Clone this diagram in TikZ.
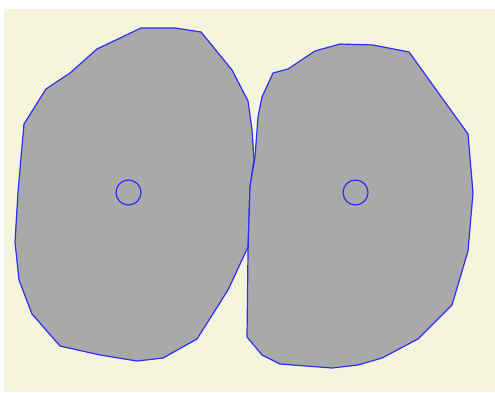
\documentclass[tikz,border=0pt]{standalone}
\usepackage{tikz}
\definecolor{paper}{RGB}{245,245,222}
\definecolor{cellgray}{RGB}{169,169,169}
\definecolor{edgeblue}{RGB}{45,45,245}
\tikzset{cell/.style={fill=cellgray, draw=edgeblue, line width=1.2pt, line join=round}}

\begin{document}
\begin{tikzpicture}[x=1pt, y=-1pt]
  \useasboundingbox (0,0) rectangle (495,392);
  % background
  \fill[white] (0,0) rectangle (495,392);
  \fill[paper] (4,9) rectangle (495,392);
  % left cell
  \draw[cell] (24,124) -- (46,89) -- (70,73) -- (97,49) -- (141,28) -- (175,28)
    -- (201,32) -- (232,70) -- (248,101) -- (252,130) -- (254,160) -- (250,187)
    -- (248,247) -- (228,290) -- (197,339) -- (163,358) -- (137,361) -- (100,355)
    -- (60,346) -- (32,314) -- (19,280) -- (15,242) -- (18,192) -- cycle;
  % right cell
  \draw[cell] (273,73) -- (288,69) -- (315,51) -- (340,44) -- (373,45) -- (409,52)
    -- (468,134) -- (473,193) -- (468,251) -- (452,305) -- (418,339) -- (382,358)
    -- (358,365) -- (332,368) -- (280,364) -- (262,355) -- (247,337) -- (248,252)
    -- (250,187) -- (255,157) -- (258,117) -- (262,97) -- cycle;
  % nuclei
  \draw[edgeblue, line width=1.2pt] (128.5,192.5) circle (12.5);
  \draw[edgeblue, line width=1.2pt] (355.5,192.5) circle (12.5);
\end{tikzpicture}
\end{document}
